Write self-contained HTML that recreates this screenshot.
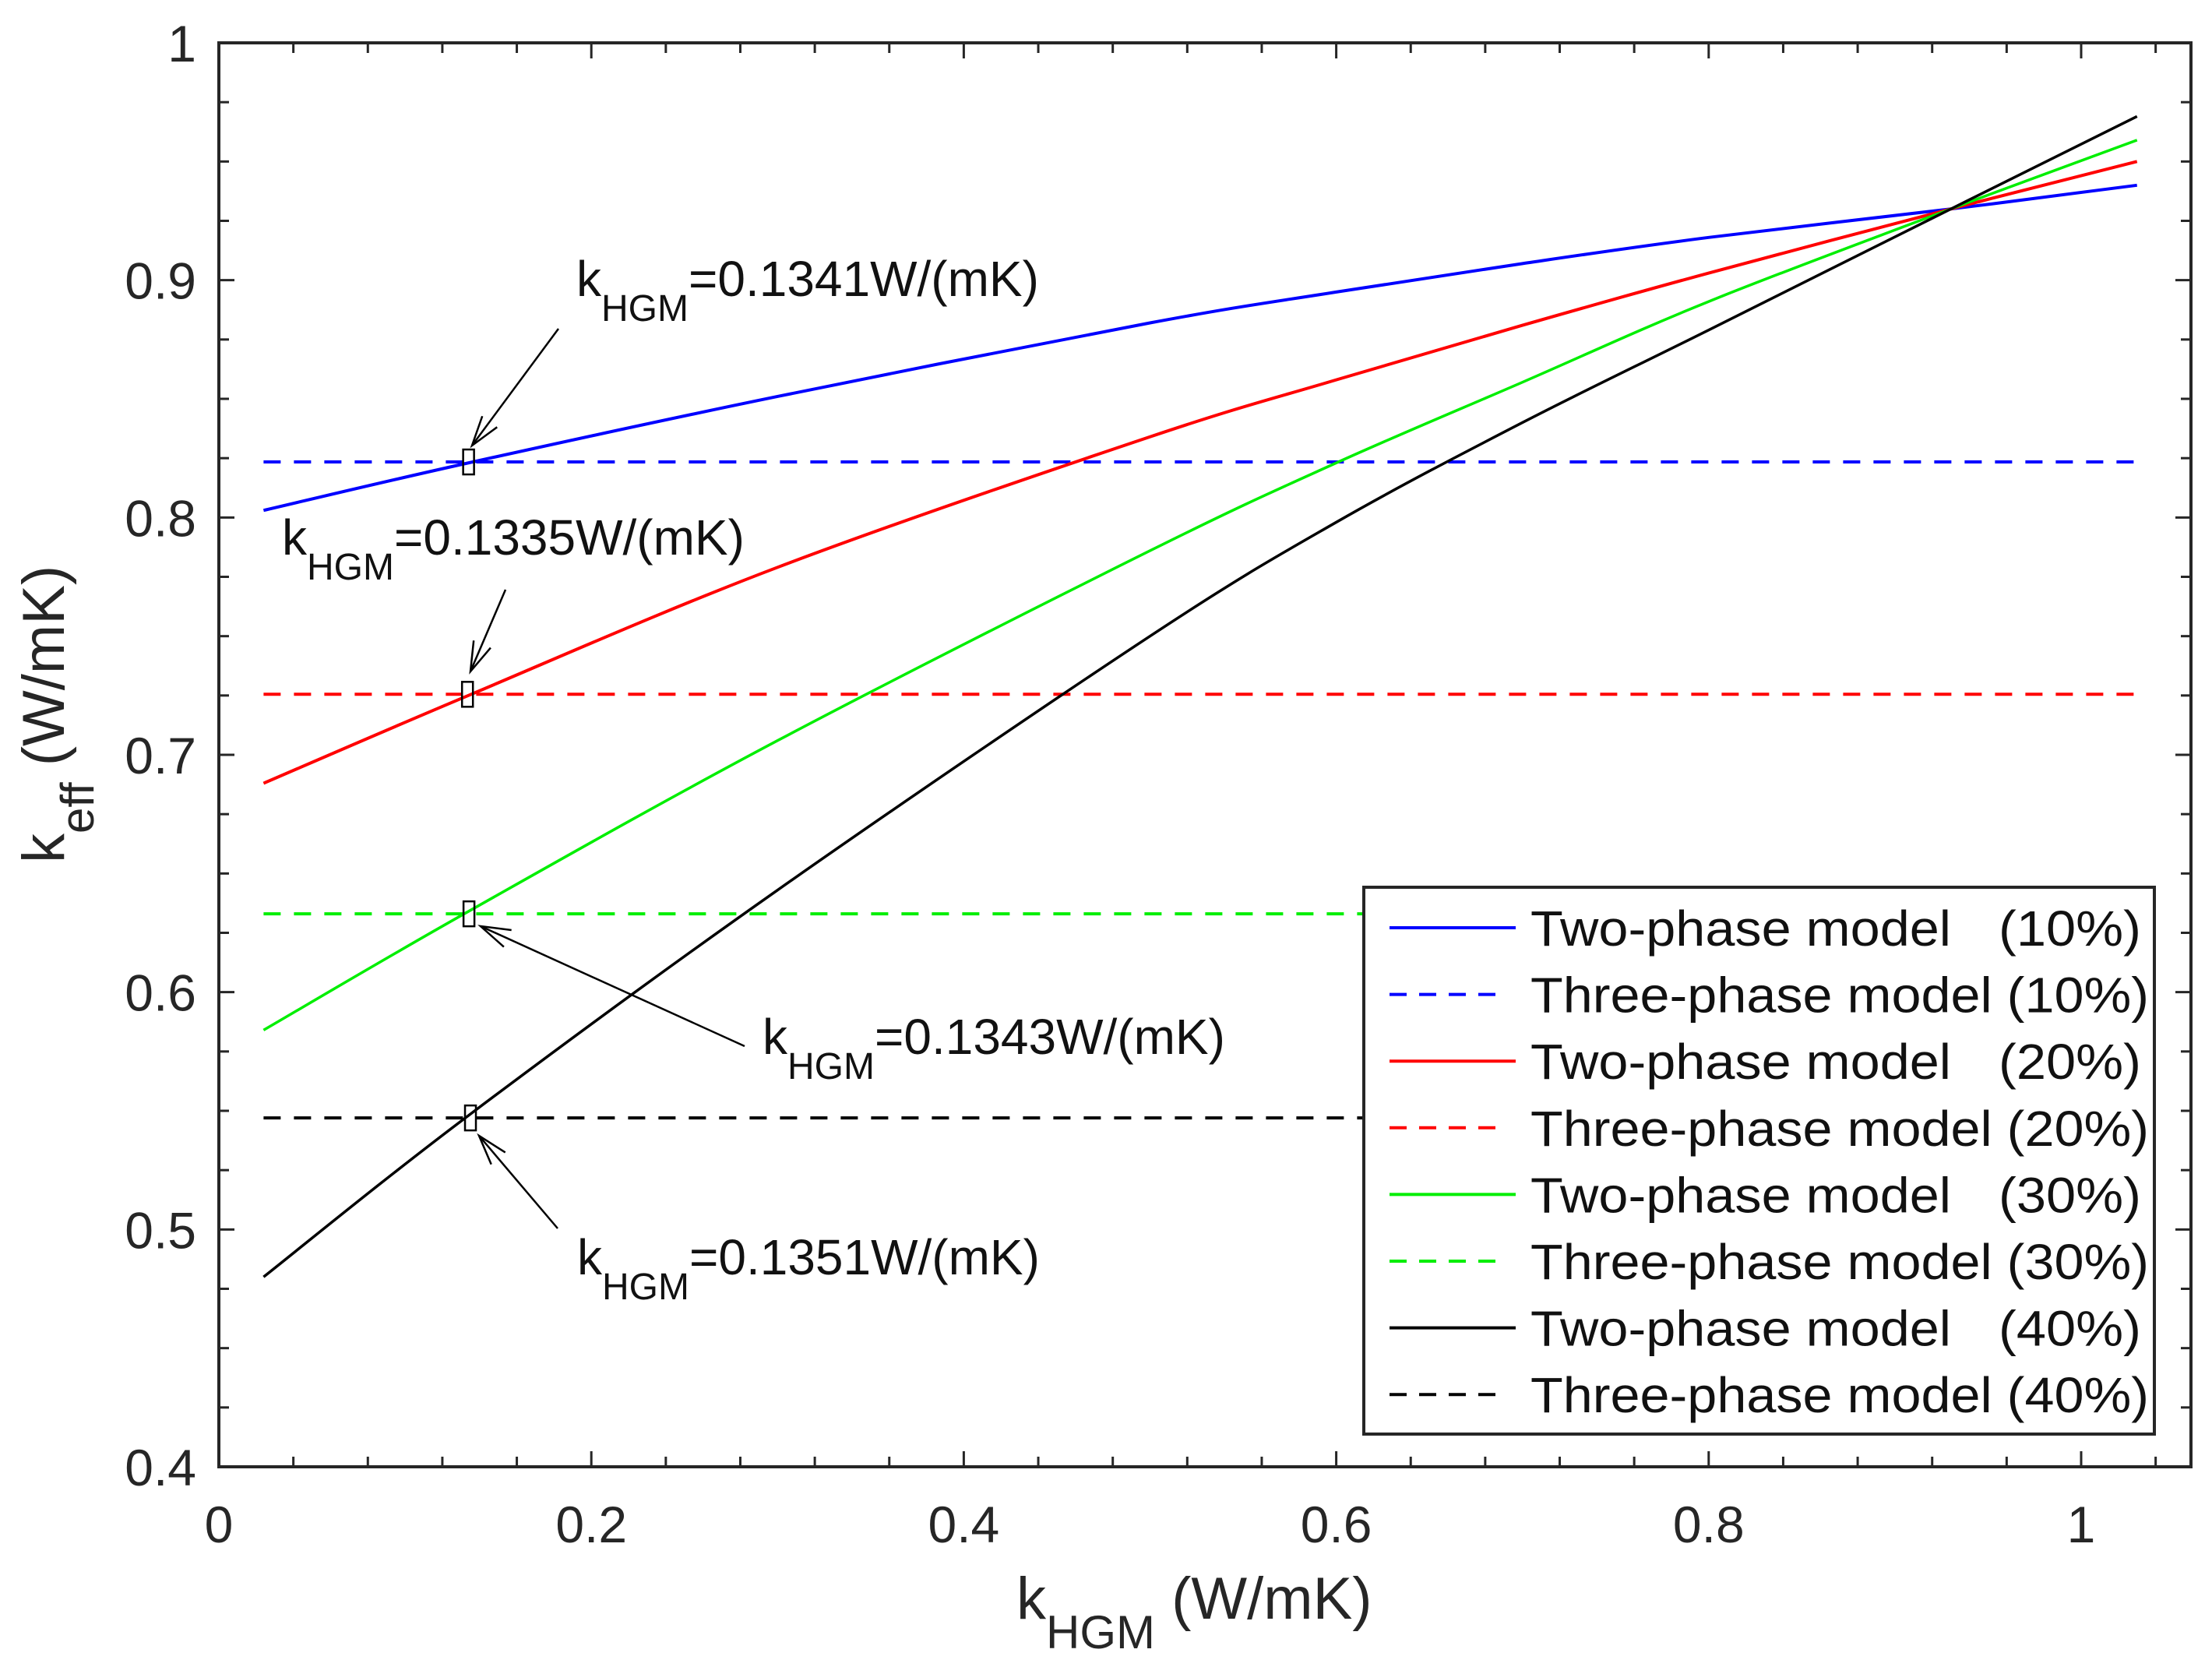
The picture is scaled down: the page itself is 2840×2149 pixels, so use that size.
<!DOCTYPE html>
<html><head><meta charset="utf-8"><style>
html,body{margin:0;padding:0;background:#fff;}
svg{display:block;font-family:"Liberation Sans",Arial,sans-serif;}
</style></head><body>
<svg id="chart" width="2840" height="2149" viewBox="0 0 2840 2149" xmlns="http://www.w3.org/2000/svg">
<rect width="2840" height="2149" fill="#fff"/>
<g id="plot"></g>
<g id="ann"></g>
<g id="legend"></g>
</svg>
<script>
const xs = [0.024, 0.134, 0.3, 0.5, 0.6, 0.7, 0.8, 0.93, 1.03];
const twoPhase10 = [0.803, 0.823, 0.851, 0.882, 0.895, 0.907, 0.918, 0.930, 0.940];
const twoPhase20 = [0.688, 0.725, 0.779, 0.834, 0.858, 0.881, 0.903, 0.930, 0.950];
const twoPhase30 = [0.584, 0.634, 0.706, 0.786, 0.823, 0.857, 0.891, 0.930, 0.959];
const twoPhase40 = [0.480, 0.548, 0.643, 0.750, 0.798, 0.840, 0.879, 0.930, 0.969];
const threePhase = [0.8234, 0.7255, 0.633, 0.547];
const seriesColors = ["#0000ff", "#ff0000", "#00ee00", "#000000"];
const pcts = ["10%", "20%", "30%", "40%"];
const xTicks = [0, 0.2, 0.4, 0.6, 0.8, 1];
const xTickLabels = ["0", "0.2", "0.4", "0.6", "0.8", "1"];
const yTicks = [0.4, 0.5, 0.6, 0.7, 0.8, 0.9, 1];
const yTickLabels = ["0.4", "0.5", "0.6", "0.7", "0.8", "0.9", "1"];
const annValues = ["0.1341", "0.1335", "0.1343", "0.1351"];
const annX = [0.1341, 0.1335, 0.1343, 0.1351];

const NS = "http://www.w3.org/2000/svg";
const L = 281, R = 2813, T = 55, B = 1883;
const sx = v => L + v * 2391;
const sy = v => B - (v - 0.4) * (B - T) / 0.6;
function mk(tag, attrs, parent) {
  const e = document.createElementNS(NS, tag);
  for (const k in attrs) e.setAttribute(k, attrs[k]);
  parent.appendChild(e);
  return e;
}
const plot = document.getElementById('plot');
const ann = document.getElementById('ann');
const leg = document.getElementById('legend');

function smoothPath(px, py) {
  let d = `M${px[0]},${py[0]}`;
  for (let i = 0; i < px.length - 1; i++) {
    const p0x = px[Math.max(i - 1, 0)], p0y = py[Math.max(i - 1, 0)];
    const p3x = px[Math.min(i + 2, px.length - 1)], p3y = py[Math.min(i + 2, px.length - 1)];
    const c1x = px[i] + (px[i + 1] - p0x) / 6, c1y = py[i] + (py[i + 1] - p0y) / 6;
    const c2x = px[i + 1] - (p3x - px[i]) / 6, c2y = py[i + 1] - (p3y - py[i]) / 6;
    d += ` C${c1x},${c1y} ${c2x},${c2y} ${px[i + 1]},${py[i + 1]}`;
  }
  return d;
}

threePhase.forEach((v, i) => {
  const l = mk('line', {x1: sx(xs[0]), x2: sx(xs[xs.length - 1]), y1: sy(v), y2: sy(v), stroke: seriesColors[i], 'stroke-width': 4, 'stroke-dasharray': '22 17'}, plot);
  
  
});
[twoPhase10, twoPhase20, twoPhase30, twoPhase40].forEach((arr, i) => {
  const p = mk('path', {d: smoothPath(xs.map(sx), arr.map(sy)), fill: 'none', stroke: seriesColors[i], 'stroke-width': i < 2 ? 4 : 3.5}, plot);
  
  
});

const box = mk('rect', {x: L, y: T, width: R - L, height: B - T, fill: 'none', stroke: '#262626', 'stroke-width': 4}, plot);


for (let i = 0; i <= 26; i++) {
  const x = sx(i * 0.04);
  const len = i % 5 === 0 ? 20 : 13;
  mk('line', {x1: x, x2: x, y1: B, y2: B - len, stroke: '#262626', 'stroke-width': 3}, plot);
  mk('line', {x1: x, x2: x, y1: T, y2: T + len, stroke: '#262626', 'stroke-width': 3}, plot);
}
for (let i = 0; i <= 24; i++) {
  const y = sy(0.4 + i * 0.025);
  const len = i % 4 === 0 ? 20 : 13;
  mk('line', {x1: L, x2: L + len, y1: y, y2: y, stroke: '#262626', 'stroke-width': 3}, plot);
  mk('line', {x1: R, x2: R - len, y1: y, y2: y, stroke: '#262626', 'stroke-width': 3}, plot);
}
xTicks.forEach((v, i) => {
  const t = mk('text', {x: sx(v), y: 1980, 'font-size': 66, 'text-anchor': 'middle', fill: '#262626'}, plot);
  t.textContent = xTickLabels[i];
  
  
});
yTicks.forEach((v, i) => {
  const t = mk('text', {x: 252, y: sy(v) + 24, 'font-size': 66, 'text-anchor': 'end', fill: '#262626'}, plot);
  t.textContent = yTickLabels[i];
  
  
});
const xt = mk('text', {x: 1305, y: 2078, 'font-size': 76, fill: '#262626'}, plot);
xt.innerHTML = 'k<tspan font-size="60" dy="38">HGM</tspan><tspan dy="-38"> (W/mK)</tspan>';


const yt = mk('text', {x: 0, y: 0, 'font-size': 76, fill: '#262626', transform: 'translate(82,1108) rotate(-90)'}, plot);
yt.innerHTML = 'k<tspan font-size="60" dy="38">eff</tspan><tspan dy="-38"> (W/mK)</tspan>';



const annText = [[740, 380], [362, 712], [979, 1353], [741, 1636]];
const annArrow = [[717, 422, 606, 572], [649, 757, 604, 862], [956, 1343, 617, 1189], [716, 1577, 615, 1458]];
annValues.forEach((val, i) => {
  const cx = sx(annX[i]), cy = sy(threePhase[i]);
  const r = mk('rect', {x: cx - 7, y: cy - 16, width: 14, height: 32, fill: 'none', stroke: '#000', 'stroke-width': 2.5}, ann);
  
  
  const [x1, y1, x2, y2] = annArrow[i];
  const ln = mk('line', {x1, y1, x2, y2, stroke: '#000', 'stroke-width': 2.5}, ann);
  
  
  const ang = Math.atan2(y1 - y2, x1 - x2), h = 40, w = 0.3;
  mk('polyline', {points: `${x2 + h * Math.cos(ang + w)},${y2 + h * Math.sin(ang + w)} ${x2},${y2} ${x2 + h * Math.cos(ang - w)},${y2 + h * Math.sin(ang - w)}`, fill: 'none', stroke: '#000', 'stroke-width': 2.5}, ann);
  const t = mk('text', {x: annText[i][0], y: annText[i][1], 'font-size': 64, fill: '#111'}, ann);
  t.innerHTML = `k<tspan font-size="48" dy="32">HGM</tspan><tspan dy="-32">=${val}W/(mK)</tspan>`;
  
  
});

const lb = mk('rect', {x: 1751, y: 1139, width: 1015, height: 702, fill: '#fff', stroke: '#262626', 'stroke-width': 4}, leg);


for (let k = 0; k < 8; k++) {
  const i = Math.floor(k / 2), dashed = k % 2 === 1;
  const y = 1191 + k * 85.6;
  const ln = mk('line', {x1: 1784, x2: dashed ? 1932 : 1946, y1: y, y2: y, stroke: seriesColors[i], 'stroke-width': 4}, leg);
  if (dashed) ln.setAttribute('stroke-dasharray', '22 16');
  
  
  if (dashed) {
    const t = mk('text', {x: 1965, y: y + 23, 'font-size': 64, fill: '#111', textLength: 794, lengthAdjust: 'spacingAndGlyphs'}, leg);
    t.textContent = 'Three-phase model (' + pcts[i] + ')';
    
    
  } else {
    const t = mk('text', {x: 1965, y: y + 23, 'font-size': 64, fill: '#111', textLength: 540, lengthAdjust: 'spacingAndGlyphs'}, leg);
    t.textContent = 'Two-phase model';
    
    
    const t2 = mk('text', {x: 2566, y: y + 23, 'font-size': 64, fill: '#111', textLength: 183, lengthAdjust: 'spacingAndGlyphs'}, leg);
    t2.textContent = '(' + pcts[i] + ')';
    
    
  }
}
</script>
</body></html>
